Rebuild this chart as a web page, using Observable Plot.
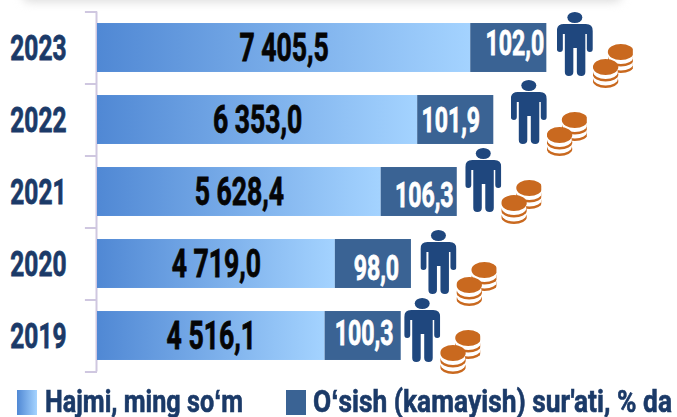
<!DOCTYPE html>
<html><head><meta charset="utf-8">
<script src="https://cdn.jsdelivr.net/npm/d3@7"></script>
<script src="https://cdn.jsdelivr.net/npm/@observablehq/plot@0.6"></script>
<style>
html,body{margin:0;padding:0;background:#fff;width:677px;height:417px;overflow:hidden}
#wrap{position:relative;width:677px;height:417px;font-family:Roboto,sans-serif;font-weight:700}
#shade{position:absolute;left:22px;top:-14px;width:600px;height:16px;background:#ddd;filter:blur(5px);border-radius:8px}
#chart{position:absolute;left:0;top:0}
.sw{position:absolute;top:390px;width:20px;height:25px}
.lb{position:absolute;top:386px;color:#1b3a68;font-size:32px;line-height:31px;white-space:nowrap;transform-origin:left top;-webkit-text-stroke:.6px #1b3a68}
</style></head><body>
<div id="wrap"><div id="shade"></div><div id="chart"></div>
<div class="sw" style="left:17px;background:linear-gradient(90deg,#5088d4,#a4d3ff)"></div>
<div class="lb" id="l1" data-w="198" style="left:45px">Hajmi, ming soʻm</div>
<div class="sw" style="left:286px;background:#3a6394"></div>
<div class="lb" id="l2" data-w="359" style="left:313px">Oʻsish (kamayish) sur'ati, % da</div>
</div>
<script>
const years = [2023, 2022, 2021, 2020, 2019];
const volume = [7405.5, 6353.0, 5628.4, 4719.0, 4516.1];
const growth = [102.0, 101.9, 106.3, 98.0, 100.3];
const volumeLabels = ["7 405,5", "6 353,0", "5 628,4", "4 719,0", "4 516,1"];
const growthLabels = ["102,0", "101,9", "106,3", "98,0", "100,3"];
const growthSpan = 1510; // the source draws every growth segment at one length

const rows = years.map((year, i) => ({
  year, volume: volume[i], growth: growth[i],
  volumeLabel: volumeLabels[i], growthLabel: growthLabels[i], end: volume[i] + growthSpan
}));

// row-by-row nudges of the hand-placed labels and pictograms in the source
const nudge = {
  2023: {gx: 6, gy: -4, p: 10, py: -4},
  2022: {gx: -5, gy: 1, p: 17, py: -8},
  2021: {gx: 5, gy: 4, p: 8, py: -12},
  2020: {gx: 3, gy: 5, p: 9, py: -2},
  2019: {gx: 1, gy: -2, p: 3, py: -6}
};

const svgUri = s => "data:image/svg+xml," + encodeURIComponent(s);
const personSrc = svgUri(`<svg xmlns="http://www.w3.org/2000/svg" viewBox="0 0 36 64"><g fill="#1f477e"><ellipse cx="18" cy="5.5" rx="7.5" ry="5.5"/><path d="M7 12H29Q36 12 36 19V37Q36 40 33 40Q30 40 30 37V22H28.5V60Q28.5 64 24.5 64Q20 64 20 60V36H16.500V60Q16.500 64 12 64Q8 64 8 60V22H6V37Q6 40 3 40Q0 40 0 37V19Q0 12 7 12Z"/></g></svg>`);
const stack = (x, y, w) => {
  const cx = x + w / 2, rx = w / 2;
  return `<ellipse cx="${cx}" cy="${y + 22}" rx="${rx}" ry="7" fill="#c9691f"/>
  <ellipse cx="${cx}" cy="${y + 19.500}" rx="${rx - .5}" ry="7" fill="#fff"/>
  <ellipse cx="${cx}" cy="${y + 15.500}" rx="${rx}" ry="7" fill="#c9691f"/>
  <ellipse cx="${cx}" cy="${y + 13}" rx="${rx - .5}" ry="7" fill="#fff"/>
  <ellipse cx="${cx}" cy="${y + 8}" rx="${rx}" ry="8" fill="#c9691f"/>`;
};
const coinSrc = svgUri(`<svg xmlns="http://www.w3.org/2000/svg" viewBox="0 0 40 44">${stack(15, 0, 26)}${stack(0, 15, 25.500)}</svg>`);

const defs = () => {
  const d = d3.create("svg:defs");
  const g = d.append("linearGradient").attr("id", "volGrad");
  g.append("stop").attr("offset", "0%").attr("stop-color", "#5088d4");
  g.append("stop").attr("offset", "100%").attr("stop-color", "#a4d3ff");
  return d.node();
};

const edges = [...years.map(y => y + 0.5), years[years.length - 1] - 0.5];
const half = 0.34;
const textBase = {fontFamily: "Roboto,sans-serif", fontWeight: 700};

const chart = Plot.plot({
  width: 677, height: 384, margin: 0,
  x: {domain: [0, 12000], range: [97, 97 + 12000 * 0.0504], axis: null},
  y: {domain: [2018.5, 2023.5], range: [371.5, 11.5], axis: null},
  marks: [
    defs,
    Plot.ruleX([0], {y1: 2018.5, y2: 2023.5, stroke: "#cfc7e0", strokeWidth: 2, dx: -1}),
    Plot.ruleY(edges, {y: d => d, x1: -240, x2: 0, stroke: "#cfc7e0", strokeWidth: 2}),
    Plot.rect(rows, {x1: 0, x2: "volume", y1: d => d.year - half, y2: d => d.year + half, fill: "url(#volGrad)"}),
    Plot.rect(rows, {x1: "volume", x2: "end", y1: d => d.year - half, y2: d => d.year + half, fill: "#3a6394"}),
    Plot.text(rows, {...textBase, x: 0, y: "year", text: d => String(d.year), textAnchor: "end", dx: -31, dy: 1, fontSize: 35, fill: "#1b3a68", className: "cond-year"}),
    Plot.text(rows, {...textBase, x: d => d.volume / 2, y: "year", text: "volumeLabel", dy: 1, fontSize: 38, fill: "#050505", className: "cond-val"}),
    ...rows.flatMap(r => {
      const n = nudge[r.year];
      return [
        Plot.text([r], {...textBase, x: d => d.volume + growthSpan / 2, y: "year", text: "growthLabel", dx: n.gx, dy: n.gy, fontSize: 35, fill: "#fff", className: "cond-growth"}),
        Plot.image([r], {x: "end", y: "year", src: () => personSrc, width: 36, height: 64, dx: n.p + 18, dy: n.py}),
        Plot.image([r], {x: "end", y: "year", src: () => coinSrc, width: 40, height: 44, dx: n.p + 56, dy: n.py + 22})
      ];
    })
  ]
});
document.getElementById("chart").appendChild(chart);

// the source type is a heavy condensed face; no such face is installed, so narrow Roboto in place
[["cond-year", .7, "#1b3a68"], ["cond-val", .7, "#050505"], ["cond-growth", .66, "#fff"]].forEach(([c, k, col]) => {
  chart.querySelectorAll(`.${c} text`).forEach(t => {
    t.setAttribute("transform", `${t.getAttribute("transform") || ""} scale(${k},1)`);
    t.setAttribute("stroke", col);
    t.setAttribute("stroke-width", ".8");
  });
});
document.querySelectorAll(".lb").forEach(el => {
  const k = +el.dataset.w / el.getBoundingClientRect().width;
  el.style.transform = `scaleX(${k})`;
});
</script></body></html>
